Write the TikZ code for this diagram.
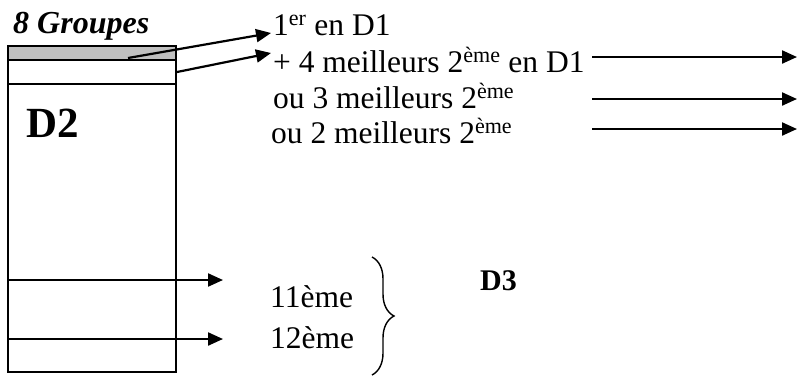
\documentclass[tikz,border=0pt]{standalone}
\usepackage{fontspec}
\setmainfont{Liberation Serif}
\usetikzlibrary{arrows.meta,decorations.pathreplacing}
\begin{document}
\begin{tikzpicture}[x=1pt,y=-1pt,
  txt/.style={anchor=base west,inner sep=0pt,font=\fontsize{31.5}{36}\selectfont},
  strip/.style={draw=black,line width=1.6pt,minimum width=168pt,inner sep=0pt,outer sep=0pt},
  arr/.style={line width=2.2pt,-{Triangle[length=15pt,width=13pt]}}]
\useasboundingbox (0,0) rectangle (798,376);
% main box
\node[strip,minimum height=326pt,anchor=north west] (box) at (8,46) {};
\node[strip,fill={rgb,255:red,192;green,192;blue,192},minimum height=14pt,anchor=north west] (gray) at (8,46) {};
\node[strip,minimum height=24pt,anchor=north west] (white) at (8,60) {};
% titles
\node[txt,font=\fontsize{32}{36}\selectfont\bfseries\itshape] (title) at (13,33) {8 Groupes};
\node[txt,font=\fontsize{43}{48}\selectfont\bfseries] (d2) at (26,137) {D2};
\node[txt,font=\fontsize{30}{36}\selectfont\bfseries] (d3) at (480,290) {D3};
% texts on the right
\node[txt] (t1) at (273,35) {1\textsuperscript{er} en D1};
\node[txt] (t2) at (273,72) {+ 4 meilleurs 2\textsuperscript{ème} en D1};
\node[txt] (t3) at (273,108) {ou 3 meilleurs 2\textsuperscript{ème}};
\node[txt] (t4) at (271,143) {ou 2 meilleurs 2\textsuperscript{ème}};
\node[txt] (t11) at (270,307) {11ème};
\node[txt] (t12) at (270,348) {12ème};
% arrows from the box
\coordinate (a1s) at (128,58);
\coordinate (a1e) at (271,33);
\coordinate (a2s) at (177,72);
\coordinate (a2e) at (271,53);
\draw[arr] (a1s) -- (a1e);
\draw[arr] (a2s) -- (a2e);
% right arrows
\coordinate (r1s) at (592,57); \coordinate (r1e) at (797,57);
\coordinate (r2s) at (592,99); \coordinate (r2e) at (797,99);
\coordinate (r3s) at (592,129); \coordinate (r3e) at (797,129);
\draw[arr] (r1s) -- (r1e);
\draw[arr] (r2s) -- (r2e);
\draw[arr] (r3s) -- (r3e);
% bottom arrows
\coordinate (b1s) at (8,280); \coordinate (b1e) at (223,280);
\coordinate (b2s) at (8,339); \coordinate (b2e) at (223,339);
\draw[arr] (b1s) -- (b1e);
\draw[arr] (b2s) -- (b2e);
% brace
\coordinate (brt) at (372,257);
\coordinate (brb) at (372,375);
\draw[line width=1.4pt,decorate,decoration={brace,amplitude=22pt}] (brt) -- (brb);
\end{tikzpicture}
\end{document}
